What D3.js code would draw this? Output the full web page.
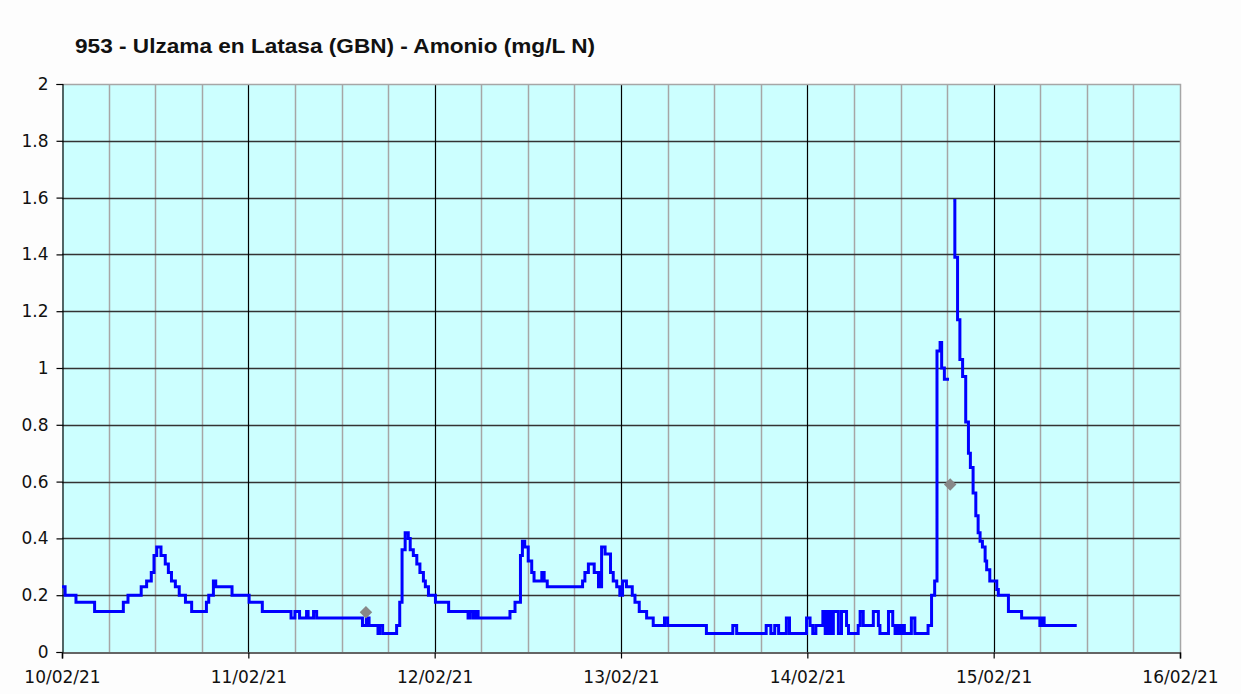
<!DOCTYPE html>
<html><head><meta charset="utf-8">
<script src="https://cdn.jsdelivr.net/npm/d3@7/dist/d3.min.js"></script>
<style>body{margin:0;background:#fdfdfd}svg{display:block}</style>
</head><body>
<svg id="chart" width="1241" height="694"></svg>
<script>
// ---- data ----
const chartTitle = "953 - Ulzama en Latasa (GBN) - Amonio (mg/L N)";
const startDay = [2021, 1, 10];   // 10/02/21
const endDay = [2021, 1, 16];     // 16/02/21
// hours since 10/02/21 00:00 and ammonium values (mg/L N); null = gap
const hours = [
  0.0, 0.4, 1.8, 4.2, 7.9, 8.5, 10.2, 10.9, 11.5, 11.85, 12.2, 12.75, 13.3, 13.7, 14.1, 14.6, 15.1, 15.9, 16.7,
  18.6, 18.9, 19.5, 19.8, 21.9, 24.1, 25.8, 29.5, 30.0, 30.6, 31.5, 31.7, 32.4, 32.8,
  38.7, 39.2, 39.55, 40.7, 40.9, 41.3, 43.1, 43.5, 43.8, 44.2, 44.6, 44.85, 45.25, 45.7, 46.1, 46.55, 46.8, 47.2,
  48.1, 49.8, 52.3, 52.6, 53.0, 53.3, 53.6, 57.7, 58.35, 59.05, 59.3, 59.6, 60.05, 60.5, 60.8, 61.8, 62.1, 62.5,
  67.05, 67.35, 67.8, 68.55, 69.1, 69.25, 69.38, 69.5, 69.95, 70.65, 71.0, 71.45, 71.85, 72.2, 72.7, 73.45, 73.8,
  74.35, 75.3, 76.15, 77.6, 78.0, 83.0, 86.4, 86.9, 90.7, 91.3, 91.8, 92.3, 93.3, 93.7, 95.9, 96.35, 96.7, 97.1,
  98.0, 98.3, 98.4, 98.7, 98.85, 99.15, 99.35, 100.0, 100.4, 101.05, 101.3, 102.55, 102.8, 103.2, 104.5, 105.15,
  105.35, 106.45, 107.0, 107.3, 107.6, 107.9, 108.2, 108.5, 109.4, 109.85, 111.55, 112.0, 112.4, 112.7, 113.1,
  113.3, 113.65, 114.25, 114.3, 114.8, 115.0, 115.35, 115.65, 116.0, 116.4, 116.75, 117.0, 117.35, 117.7, 118.0,
  118.25, 118.55, 118.9, 119.1, 119.5, 120.4, 120.6, 121.9, 123.6, 125.95, 126.2, 126.5, 130.7
];
const ammonium = [
  0.23, 0.20, 0.175, 0.143, 0.175, 0.20, 0.23, 0.25, 0.28, 0.34, 0.37, 0.34, 0.31, 0.28, 0.25, 0.23, 0.20, 0.175, 0.143,
  0.175, 0.20, 0.25, 0.23, 0.20, 0.175, 0.143, 0.12, 0.143, 0.12, 0.143, 0.12, 0.143, 0.12,
  0.093, 0.12, 0.093, 0.065, 0.093, 0.065, 0.093, 0.175, 0.36, 0.42, 0.40, 0.36, 0.34, 0.31, 0.28, 0.25, 0.23, 0.20,
  0.175, 0.143, 0.12, 0.143, 0.12, 0.143, 0.12, 0.143, 0.175, 0.34, 0.39, 0.37, 0.32, 0.28, 0.25, 0.28, 0.25, 0.23,
  0.25, 0.28, 0.31, 0.28, 0.23, 0.28, 0.23, 0.37, 0.345, 0.28, 0.25, 0.23, 0.20, 0.25, 0.23, 0.20, 0.175,
  0.143, 0.12, 0.093, 0.12, 0.093, 0.065, 0.093, 0.065, 0.093, 0.065, 0.093, 0.065, 0.12, 0.065, 0.12, 0.093, 0.065, 0.093,
  0.143, 0.065, 0.143, 0.065, 0.143, 0.065, 0.143, 0.065, 0.143, 0.093, 0.065, 0.093, 0.143, 0.093, 0.143, 0.093,
  0.065, 0.143, 0.093, 0.065, 0.093, 0.065, 0.093, 0.065, 0.12, 0.065, 0.093, 0.20, 0.25, 1.06, 1.09,
  1.0, 0.96, 0.96, null, 1.59, 1.39, 1.17, 1.03, 0.97, 0.81, 0.70, 0.65, 0.56, 0.48, 0.42,
  0.39, 0.37, 0.32, 0.29, 0.25, 0.22, 0.20, 0.143, 0.12, 0.093, 0.12, 0.093, 0.093
];
// laboratory samples (grey diamonds)
const sampleHours = [39.15, 114.4];
const sampleValues = [0.14, 0.59];
const yTickValues = [0, 0.2, 0.4, 0.6, 0.8, 1, 1.2, 1.4, 1.6, 1.8, 2];

// ---- layout ----
const L = 62, T = 84, R = 1180, B = 652;
const svg = d3.select("#chart");
const t0 = new Date(...startDay), t1 = new Date(...endDay);
const toDate = h => new Date(t0.getTime() + h * 3600e3);

const x = d3.scaleTime().domain([t0, t1]).range([L, R]);
const y = d3.scaleLinear().domain([0, 2]).range([B, T]);

svg.append("rect").attr("x", L).attr("y", T).attr("width", R - L).attr("height", B - T).attr("fill", "#ccffff");

const g = svg.append("g");
// minor vertical grid every 6 h
const sixH = d3.timeHour.every(6).range(t0, t1).filter(d => d.getHours() !== 0);
g.selectAll(".vmin").data(sixH).join("line")
  .attr("x1", d => Math.round(x(d)) + 0.5).attr("x2", d => Math.round(x(d)) + 0.5)
  .attr("y1", T).attr("y2", B).attr("stroke", "#a6a6a6").attr("stroke-width", 1.5);
// horizontal grid
g.selectAll(".h").data(yTickValues.filter(v => v > 0 && v < 2)).join("line")
  .attr("x1", L).attr("x2", R).attr("y1", d => Math.round(y(d)) + 0.5).attr("y2", d => Math.round(y(d)) + 0.5)
  .attr("stroke", "#333").attr("stroke-width", 1.6);
// day lines
const days = d3.timeDay.range(t0, d3.timeDay.offset(t1, 1));
g.selectAll(".vmaj").data(days.filter(d => +d > +t0 && +d < +t1)).join("line")
  .attr("x1", d => Math.round(x(d)) + 0.5).attr("x2", d => Math.round(x(d)) + 0.5)
  .attr("y1", T).attr("y2", B).attr("stroke", "#000").attr("stroke-width", 1.2);
// top / right border
svg.append("path").attr("d", `M${L},${T + 0.5}H${R + 0.5}V${B}`).attr("fill", "none")
  .attr("stroke", "#a6a6a6").attr("stroke-width", 1.5);

// axes
const fontFam = "'DejaVu Sans', Verdana, sans-serif";
const yAxis = svg.append("g").attr("transform", `translate(${L + 0.5},0)`)
  .call(d3.axisLeft(y).tickValues(yTickValues).tickSize(6).tickPadding(8)
    .tickFormat(d => String(+d.toFixed(1))));
const xAxis = svg.append("g").attr("transform", `translate(0,${B + 0.5})`)
  .call(d3.axisBottom(x).tickValues(days).tickSize(6).tickPadding(12)
    .tickFormat(d3.timeFormat("%d/%m/%y")));
[yAxis, xAxis].forEach(a => {
  a.select(".domain").attr("stroke", "#000").attr("stroke-width", 1.2);
  a.selectAll(".tick line").attr("stroke", "#000").attr("stroke-width", 1.2);
  a.selectAll("text").attr("fill", "#111").style("font-family", fontFam).style("font-size", "17px");
});
xAxis.select(".domain").attr("stroke", "#333").attr("stroke-width", 1.6);

// series
const data = hours.map((h, i) => ({ t: toDate(h), v: ammonium[i] }));
const line = d3.line().defined(d => d.v != null).x(d => x(d.t)).y(d => y(d.v)).curve(d3.curveStepAfter);
svg.append("path").datum(data).attr("d", line).attr("fill", "none")
  .attr("stroke", "#0000ff").attr("stroke-width", 3).attr("stroke-linejoin", "miter");

// samples
const samples = sampleHours.map((h, i) => ({ t: toDate(h), v: sampleValues[i] }));
svg.selectAll(".s").data(samples).join("path")
  .attr("d", d3.symbol(d3.symbolDiamond2, 100))
  .attr("transform", d => `translate(${x(d.t)},${y(d.v)})`)
  .attr("fill", "#888");

// title
svg.append("text").attr("x", 75).attr("y", 53).text(chartTitle)
  .attr("textLength", 520).attr("lengthAdjust", "spacingAndGlyphs")
  .style("font-family", "'Liberation Sans', Arial, sans-serif").style("font-weight", "bold")
  .style("font-size", "20px").attr("fill", "#111");
</script>
</body></html>
